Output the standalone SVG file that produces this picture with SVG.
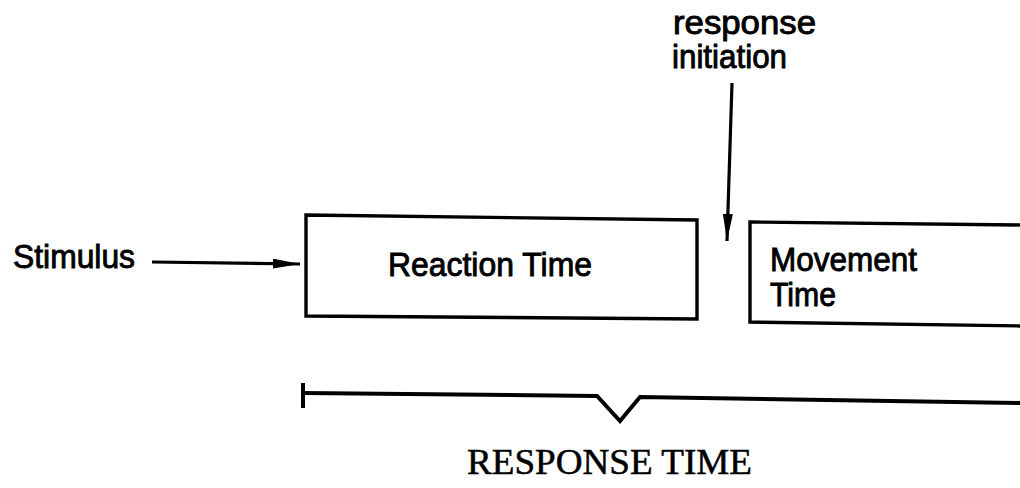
<svg xmlns="http://www.w3.org/2000/svg" width="1020" height="488" viewBox="0 0 1020 488">
  <defs>
    <style>
      .lbl { font-family: "Liberation Sans", Arial, sans-serif; font-size: 33px; fill: #000; stroke: #000; stroke-width: 0.9px; }
      .cap { font-family: "Liberation Serif", "Times New Roman", serif; font-size: 35px; fill: #000; stroke: #000; stroke-width: 0.5px; }
      .box { fill: none; stroke: #000; stroke-width: 3.4; stroke-linejoin: miter; }
      .wire { fill: none; stroke: #000; stroke-width: 3.2; }
      .brace { fill: none; stroke: #000; stroke-width: 4; stroke-linejoin: miter; }
    </style>
    <marker id="head" viewBox="0 0 27 10" refX="27" refY="5" markerWidth="27" markerHeight="10" markerUnits="userSpaceOnUse" orient="auto">
      <path d="M0,0 L27,5 L0,10 Z" fill="#000"/>
    </marker>
  </defs>

  <rect width="1020" height="488" fill="#fff"/>

  <!-- input label -->
  <g id="stimulus">
    <text class="lbl" x="13" y="268" textLength="122" lengthAdjust="spacingAndGlyphs">Stimulus</text>
  </g>

  <!-- first stage -->
  <g id="reaction-time">
    <path class="box" d="M306,215 L697,220 L697,319 L306,316 Z"/>
    <text class="lbl" x="388" y="276" textLength="204" lengthAdjust="spacingAndGlyphs">Reaction Time</text>
  </g>

  <!-- second stage, runs past the right edge -->
  <g id="movement-time">
    <path class="box" d="M1024,225 L750,222 L750,322 L1024,326"/>
    <text class="lbl" x="770" y="271" textLength="147" lengthAdjust="spacingAndGlyphs">Movement</text>
    <text class="lbl" x="770" y="306" textLength="66" lengthAdjust="spacingAndGlyphs">Time</text>
  </g>

  <!-- event marker label -->
  <g id="response-initiation">
    <text class="lbl" x="673" y="34" textLength="143" lengthAdjust="spacingAndGlyphs">response</text>
    <text class="lbl" x="672" y="68" textLength="115" lengthAdjust="spacingAndGlyphs">initiation</text>
  </g>

  <!-- overall span -->
  <g id="response-time">
    <path class="brace" d="M303,383 L303,408"/>
    <path class="brace" d="M303,393 L597,396 L620,421 L640,397 L1024,403"/>
    <text class="cap" x="467" y="474" textLength="285" lengthAdjust="spacingAndGlyphs">RESPONSE TIME</text>
  </g>

  <g id="connectors">
    <path class="wire" d="M152,262 L300,264" marker-end="url(#head)"/>
    <path class="wire" d="M732,83 L727,241" marker-end="url(#head)"/>
  </g>
</svg>
